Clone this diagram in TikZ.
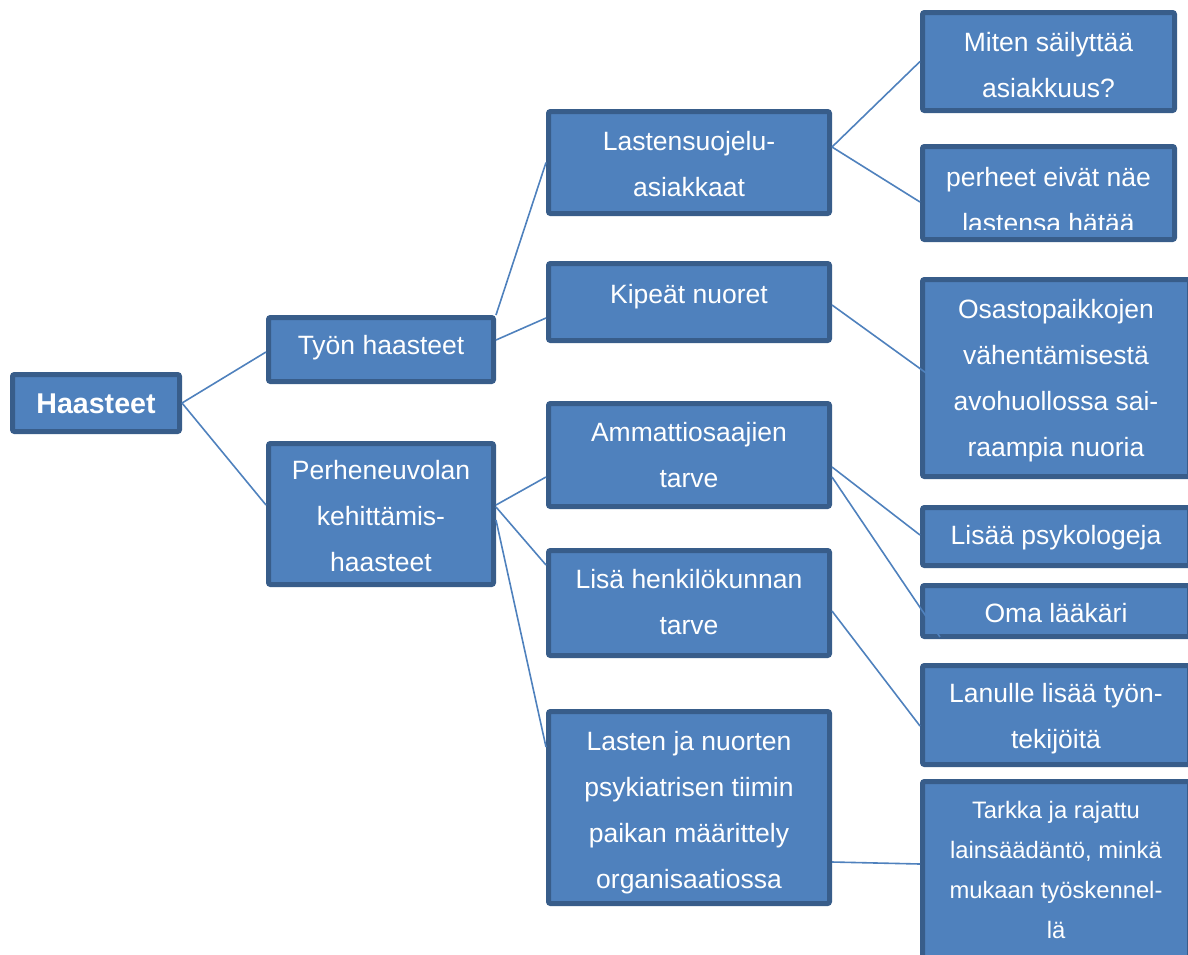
\documentclass[tikz,border=0pt]{standalone}
\usepackage{fontspec}
\setmainfont{Liberation Sans}
\definecolor{boxfill}{HTML}{4F81BD}
\definecolor{boxedge}{HTML}{385D8A}
\definecolor{wirecol}{HTML}{4F81BD}
\begin{document}
\begin{tikzpicture}[x=1pt,y=-1pt,
  % tb = distance of the last baseline below the box centre, times two
  tb/.style={text height=#1, text depth=0pt},
  box/.style={draw=boxedge, line width=5pt, fill=boxfill, rounded corners=2pt,
    inner sep=0pt, text=white, align=center,
    font=\fontsize{26.5}{46}\selectfont},
  wire/.style={draw=wirecol, line width=1.6pt},
]
\useasboundingbox (0,0) rectangle (1188,954);
\clip (0,0) rectangle (1188,954);

% root
\node[box, minimum width=167pt, minimum height=57pt, tb=20pt,
  font=\bfseries\fontsize{28.6}{46}\selectfont] (haasteet) at (96,403) {Haasteet};

% second level
\node[box, minimum width=225pt, minimum height=64pt, tb=9pt] (tyon) at (381,349.5) {Työn haasteet};
\node[box, minimum width=225pt, minimum height=141pt, tb=114pt] (perhe) at (381,514) {Perheneuvolan\\kehittämis-\\haasteet};

% third level
\node[box, minimum width=281pt, minimum height=102pt, tb=67pt] (lsuo) at (689,162.5) {Lastensuojelu-\\asiakkaat};
\node[box, minimum width=281pt, minimum height=77pt, tb=3pt] (kipeat) at (689,302) {Kipeät nuoret};
\node[box, minimum width=281pt, minimum height=103pt, tb=64pt] (ammatti) at (689,455) {Ammattiosaajien\\tarve};
\node[box, minimum width=281pt, minimum height=105pt, tb=62pt] (lisahenk) at (689,603) {Lisä henkilökunnan\\tarve};
\node[box, minimum width=281pt, minimum height=192pt, tb=161pt] (lasten) at (689,807.5) {Lasten ja nuorten\\psykiatrisen tiimin\\paikan määrittely\\organisaatiossa};

% fourth level
\node[box, minimum width=252pt, minimum height=98pt, tb=71pt] (miten) at (1048.5,61.5) {Miten säilyttää\\asiakkuus?};
\node[box, minimum width=252pt, minimum height=93pt] (perheet) at (1048.5,193) {};
\begin{scope}
  \clip (922.5,146.5) rectangle (1174.5,229.3);
  \node[box, draw=none, fill=none, minimum width=252pt, minimum height=93pt, tb=78pt]
    (perheetText) at (perheet.center) {perheet eivät näe\\lastensa hätää};
\end{scope}
\node[box, minimum width=267pt, minimum height=197pt, tb=156pt] (osasto) at (1056,378) {Osastopaikkojen\\vähentämisestä\\avohuollossa sai-\\raampia nuoria};
\node[box, minimum width=267pt, minimum height=58pt, tb=15pt] (psyk) at (1056,536.5) {Lisää psykologeja};
\node[box, minimum width=267pt, minimum height=51pt, tb=22pt] (oma) at (1056,611) {Oma lääkäri};
\node[box, minimum width=267pt, minimum height=99pt, tb=66pt] (lanulle) at (1056,715) {Lanulle lisää työn-\\tekijöitä};
\node[box, minimum width=267pt, minimum height=177pt, tb=136pt,
  font=\fontsize{23.8}{40}\selectfont] (tarkka) at (1056,870) {Tarkka ja rajattu\\lainsäädäntö, minkä\\mukaan työskennel-\\lä};

% connectors
\draw[wire] (haasteet.east) -- ([yshift=-2.5pt]tyon.west);
\draw[wire] (haasteet.east) -- ([yshift=9pt]perhe.west);
\draw[wire] (tyon.north east) -- (lsuo.west);
\draw[wire] ([yshift=9.5pt]tyon.east) -- ([yshift=-16pt]kipeat.west);
\draw[wire] ([yshift=9pt]perhe.east) -- ([yshift=-22pt]ammatti.west);
\draw[wire] ([yshift=7pt]perhe.east) -- ([yshift=38pt]lisahenk.west);
\draw[wire] ([yshift=-6pt]perhe.east) -- ([yshift=60.5pt]lasten.west);
\draw[wire] ([yshift=15.5pt]lsuo.east) -- (miten.west);
\draw[wire] ([yshift=15.5pt]lsuo.east) -- ([yshift=-9pt]perheet.west);
\draw[wire] ([yshift=-3pt]kipeat.east) -- ([xshift=20pt,yshift=-5pt]osasto.west);
\draw[wire] ([yshift=-12pt]ammatti.east) -- ([yshift=1.5pt]psyk.west);
\draw[wire] ([yshift=-22pt]ammatti.east) -- ([xshift=20pt,yshift=2pt]oma.south west);
\draw[wire] ([yshift=-8pt]lisahenk.east) -- ([yshift=-11pt]lanulle.west);
\draw[wire] ([yshift=-54.5pt]lasten.east) -- ([yshift=6pt]tarkka.west);
\end{tikzpicture}
\end{document}
